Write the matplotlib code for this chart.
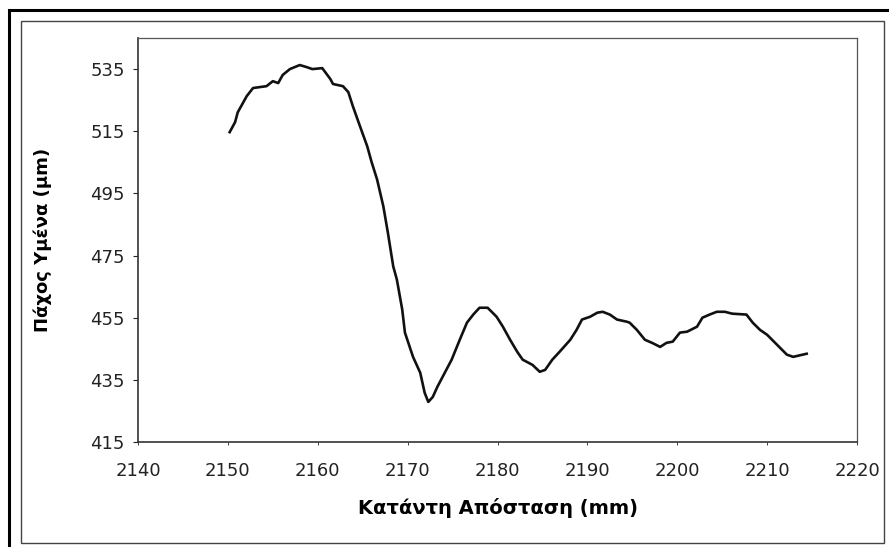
import matplotlib.pyplot as plt
from matplotlib.lines import Line2D
from matplotlib.patches import Rectangle

plt.rcParams["font.family"] = ["DejaVu Sans"]

# film thickness trace along the downstream distance
distance_mm = [
    2150.2, 2150.8, 2151.1, 2152.1, 2152.8, 2154.3, 2155.0, 2155.6, 2156.1, 2156.9,
    2158.0, 2158.8, 2159.4, 2160.5, 2161.4, 2161.7, 2162.8, 2163.4, 2163.9, 2164.7,
    2165.5, 2166.0, 2166.6, 2167.3, 2167.8, 2168.4, 2168.8, 2169.4, 2169.7, 2170.6,
    2171.4, 2171.9, 2172.3, 2172.8, 2173.3, 2173.9, 2174.9, 2175.8, 2176.6, 2177.3,
    2178.0, 2178.9, 2179.9, 2180.6, 2181.4, 2182.2, 2182.8, 2183.9, 2184.7, 2185.3,
    2186.1, 2186.9, 2188.1, 2188.8, 2189.4, 2190.3, 2191.1, 2191.7, 2192.5, 2193.3,
    2194.4, 2194.7, 2195.5, 2196.4, 2197.2, 2198.1, 2198.8, 2199.5, 2200.3, 2201.1,
    2202.2, 2202.8, 2203.6, 2204.4, 2205.3, 2206.1, 2207.7, 2208.4, 2209.2, 2210.0,
    2211.1, 2212.2, 2212.9, 2214.4,
]
thickness_um = [
    514.7, 517.9, 521.1, 526.3, 528.9, 529.5, 531.1, 530.5, 533.1, 535.0,
    536.3, 535.6, 535.0, 535.3, 531.8, 530.2, 529.5, 527.6, 523.1, 516.6,
    510.2, 505.0, 499.5, 490.8, 482.4, 471.5, 467.3, 457.6, 450.2, 442.4,
    437.3, 430.8, 427.9, 429.5, 432.7, 436.0, 441.5, 447.9, 453.4, 456.0,
    458.2, 458.2, 455.3, 452.1, 447.9, 444.0, 441.5, 439.8, 437.6, 438.2,
    441.5, 444.0, 447.9, 451.1, 454.4, 455.3, 456.6, 456.9, 456.0, 454.4,
    453.7, 453.4, 451.1, 447.9, 446.9, 445.6, 446.9, 447.3, 450.2, 450.5,
    452.1, 455.0, 456.0, 456.9, 456.9, 456.3, 456.0, 453.4, 451.1, 449.5,
    446.3, 443.1, 442.4, 443.4,
]

x_ticks = [2140, 2150, 2160, 2170, 2180, 2190, 2200, 2210, 2220]
y_ticks = [415, 435, 455, 475, 495, 515, 535]

W, H = 889, 547
fig = plt.figure(figsize=(W / 100, H / 100), dpi=100)
ax = fig.add_axes([138 / W, 1 - 442 / H, 719 / W, 404 / H])

ax.plot(distance_mm, thickness_um, color="#111111", linewidth=1.9)

ax.set_xlim(2140, 2220)
ax.set_ylim(415, 545)
ax.set_xticks(x_ticks)
ax.set_yticks(y_ticks)
ax.tick_params(axis="y", direction="out", length=3.5, width=0.8, pad=6,
               labelsize=13, colors="#222222")
ax.tick_params(axis="x", direction="out", length=2.5, width=0.6, pad=12,
               labelsize=13, colors="#222222")
for side in ["left", "bottom"]:
    ax.spines[side].set_color("#333333")
    ax.spines[side].set_linewidth(1.2)
for side in ["top", "right"]:
    ax.spines[side].set_color("#555555")
    ax.spines[side].set_linewidth(0.9)

ax.set_xlabel("Κατάντη Απόσταση (mm)", fontsize=14, fontweight="bold")
ax.set_ylabel("Πάχος Υμένα (μm)", fontsize=13, fontweight="bold")
ax.xaxis.set_label_coords(0.5, -0.139)
ax.yaxis.set_label_coords(-0.12, 0.5)

# chart frame: heavy edge on top/left plus a thin inner box
fig.add_artist(Line2D([10 / W, 1.0], [1 - 10 / H, 1 - 10 / H],
                      color="black", linewidth=2.2))
fig.add_artist(Line2D([9 / W, 9 / W], [0.0, 1 - 10 / H],
                      color="black", linewidth=2.2))
fig.add_artist(Rectangle((21 / W, 1 - 543 / H), (884 - 21) / W, (543 - 21) / H,
                         fill=False, edgecolor="#444444", linewidth=1.0))

fig.savefig("out.png", dpi=100)
